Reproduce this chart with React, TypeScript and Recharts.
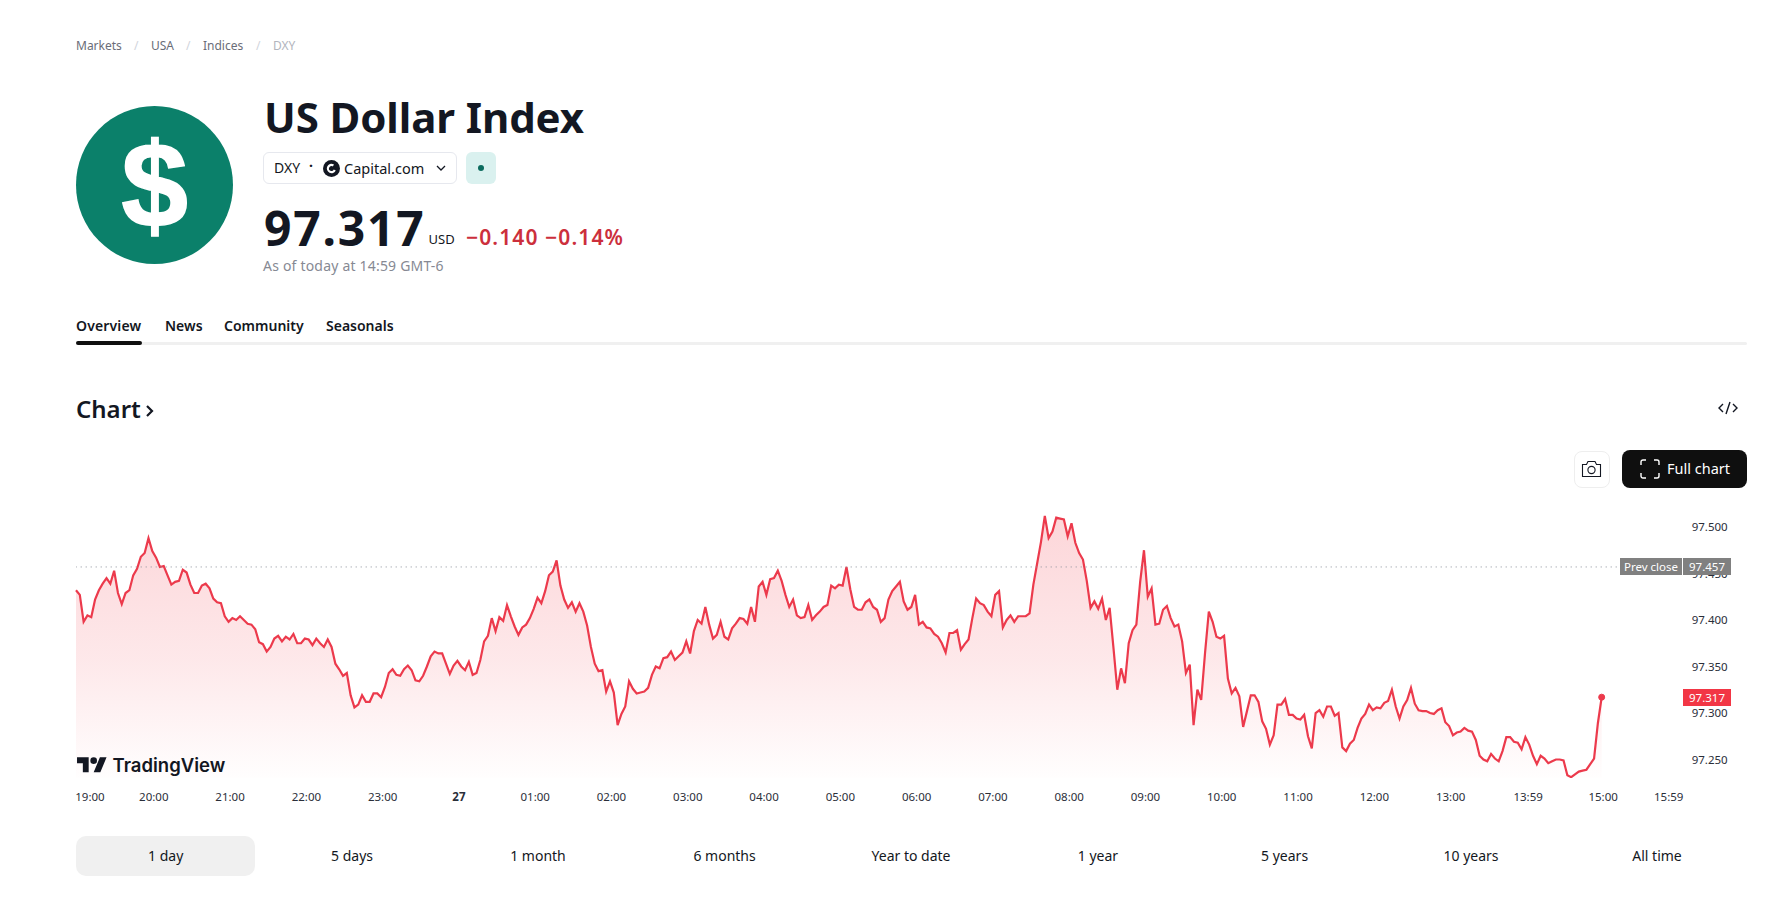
import React from "react";
import { ComposedChart, Area, XAxis, YAxis, ReferenceLine, ReferenceDot } from "recharts";

// 3 minute closes, one list per session hour
const hour19 = [97.432,97.427,97.398,97.405,97.403,97.422,97.432,97.439,97.445,97.439,97.453,97.429,97.417,97.429,97.432,97.448,97.455,97.468,97.472,97.488];
const hour20 = [97.474,97.467,97.457,97.458,97.448,97.438,97.441,97.442,97.454,97.451,97.438,97.429,97.429,97.437,97.439,97.434,97.423,97.419,97.418,97.404];
const hour21 = [97.398,97.402,97.400,97.404,97.400,97.396,97.395,97.390,97.376,97.374,97.366,97.371,97.380,97.383,97.377,97.382,97.379,97.385,97.375,97.375];
const hour22 = [97.380,97.379,97.373,97.380,97.375,97.371,97.379,97.371,97.353,97.347,97.340,97.343,97.319,97.306,97.309,97.319,97.312,97.312,97.321,97.321];
const hour23 = [97.317,97.328,97.343,97.347,97.341,97.340,97.347,97.351,97.346,97.335,97.334,97.340,97.350,97.361,97.366,97.364,97.364,97.353,97.342,97.351];
const hour00 = [97.356,97.350,97.346,97.355,97.341,97.343,97.357,97.377,97.383,97.402,97.388,97.403,97.399,97.416,97.404,97.393,97.384,97.392,97.395,97.402];
const hour01 = [97.412,97.424,97.418,97.431,97.448,97.452,97.464,97.437,97.422,97.413,97.419,97.409,97.418,97.409,97.394,97.371,97.353,97.345,97.346,97.323];
const hour02 = [97.334,97.322,97.287,97.299,97.307,97.334,97.326,97.321,97.322,97.323,97.327,97.341,97.350,97.348,97.359,97.360,97.366,97.357,97.361,97.365];
const hour03 = [97.377,97.364,97.388,97.400,97.396,97.414,97.395,97.380,97.384,97.398,97.382,97.379,97.391,97.396,97.402,97.401,97.396,97.414,97.398,97.436];
const hour04 = [97.441,97.427,97.444,97.445,97.453,97.442,97.427,97.414,97.422,97.405,97.402,97.403,97.416,97.400,97.405,97.409,97.414,97.416,97.437,97.434];
const hour05 = [97.438,97.437,97.457,97.433,97.414,97.411,97.411,97.419,97.422,97.414,97.411,97.398,97.402,97.422,97.431,97.436,97.441,97.420,97.411,97.414];
const hour06 = [97.427,97.395,97.398,97.392,97.391,97.385,97.382,97.375,97.365,97.386,97.386,97.389,97.368,97.374,97.379,97.402,97.423,97.418,97.416,97.409];
const hour07 = [97.404,97.427,97.431,97.392,97.400,97.405,97.398,97.404,97.404,97.404,97.407,97.438,97.461,97.484,97.512,97.488,97.495,97.510,97.509,97.508];
const hour08 = [97.490,97.504,97.483,97.472,97.465,97.442,97.413,97.420,97.412,97.423,97.400,97.413,97.370,97.325,97.348,97.332,97.375,97.389,97.395,97.441];
const hour09 = [97.475,97.425,97.434,97.395,97.396,97.411,97.415,97.402,97.393,97.395,97.377,97.343,97.352,97.287,97.325,97.314,97.364,97.409,97.398,97.382];
const hour10 = [97.380,97.383,97.337,97.321,97.327,97.318,97.285,97.302,97.319,97.319,97.312,97.291,97.283,97.266,97.276,97.309,97.309,97.315,97.298,97.298];
const hour11 = [97.294,97.293,97.298,97.275,97.262,97.300,97.303,97.296,97.307,97.307,97.297,97.300,97.263,97.259,97.267,97.271,97.284,97.294,97.299,97.309];
const hour12 = [97.303,97.306,97.305,97.311,97.313,97.325,97.307,97.294,97.307,97.314,97.327,97.310,97.303,97.302,97.302,97.300,97.299,97.303,97.305,97.290];
const hour13 = [97.286,97.276,97.279,97.280,97.284,97.281,97.280,97.271,97.254,97.250,97.248,97.256,97.251,97.248,97.259,97.274,97.274,97.269,97.268,97.261];
const hour14 = [97.274,97.266,97.254,97.245,97.254,97.251,97.246,97.248,97.250,97.250,97.249,97.233,97.231,97.234,97.237,97.238,97.239,97.245,97.251,97.289,97.317];

const prices = [hour19,hour20,hour21,hour22,hour23,hour00,hour01,hour02,hour03,hour04,hour05,hour06,hour07,hour08,hour09,hour10,hour11,hour12,hour13,hour14].flat();
const prevClose = 97.457;
const lastPrice = 97.317;
const stepMinutes = 3;
const chartData = prices.map((price, i) => ({ minute: i * stepMinutes, price }));

const xTicks = [0,60,120,180,240,300,360,420,480,540,600,660,720,780,840,900,960,1020,1080,1139,1200,1259];
const xLabels = ["19:00","20:00","21:00","22:00","23:00","27","01:00","02:00","03:00","04:00","05:00","06:00","07:00","08:00","09:00","10:00","11:00","12:00","13:00","13:59","15:00","15:59"];
const yTicks = [97.25,97.3,97.35,97.4,97.45,97.5];
const yDomain = [97.2301, 97.529];
const ranges = ["1 day","5 days","1 month","6 months","Year to date","1 year","5 years","10 years","All time"];
const rangeCenters = [165.7,352,538,724.6,911,1098,1284.6,1471,1657];

const FONT = '"Noto Sans", sans-serif';
const RED = "#F23645";
const PLOT_TOP = 10;
const PLOT_HEIGHT = 278;

const Txt = ({ x, y, size = 14, weight = 400, color = "#131722", center = false, spacing = 0, children, font = FONT, outline }: any) => (
  <div style={{ position: "absolute", left: x, top: y, transform: center ? "translate(-50%,-50%)" : "translateY(-50%)", fontFamily: font, fontSize: size, fontWeight: weight, color, letterSpacing: spacing, whiteSpace: "nowrap", lineHeight: 1, WebkitTextStroke: outline }}>
    {children}
  </div>
);

const TimeTick = (props: any) => {
  const { x, y, payload } = props;
  const i = xTicks.indexOf(payload.value);
  const shift = i === 0 ? 14 : i === xTicks.length - 1 ? -8 : i === 19 ? 4 : 1.5;
  return (
    <text x={x + shift} y={y + 12} textAnchor="middle" dominantBaseline="middle" fontFamily={FONT} fontSize={11.5} fontWeight={xLabels[i] === "27" ? 700 : 400} fill="#2a2e39">
      {xLabels[i]}
    </text>
  );
};

// price tags sit over the axis labels, so they are drawn above the svg
const priceTop = (v: number) => PLOT_TOP + ((yDomain[1] - v) / (yDomain[1] - yDomain[0])) * PLOT_HEIGHT;

const PriceBox = ({ left, width, price, fill, children }: any) => (
  <div style={{ position: "absolute", left, top: priceTop(price) - 8.5, width, height: 17, background: fill, color: "#fff", fontFamily: FONT, fontSize: 11.5, lineHeight: "17px", textAlign: "center", whiteSpace: "nowrap" }}>
    {children}
  </div>
);

const PriceChart = () => (
  <div style={{ position: "absolute", left: 0, top: 490 }}>
    <ComposedChart width={1792} height={340} data={chartData} margin={{ top: PLOT_TOP, right: 0, bottom: 0, left: 76 }}>
      <defs>
        <linearGradient id="dxyFill" x1="0" y1="0" x2="0" y2="1">
          <stop offset="0%" stopColor={RED} stopOpacity={0.34} />
          <stop offset="55%" stopColor={RED} stopOpacity={0.19} />
          <stop offset="80%" stopColor={RED} stopOpacity={0.09} />
          <stop offset="100%" stopColor={RED} stopOpacity={0.01} />
        </linearGradient>
      </defs>
      <XAxis dataKey="minute" type="number" domain={[0, 1259]} ticks={xTicks} interval={0} height={52} axisLine={false} tickLine={false} tick={<TimeTick />} />
      <YAxis orientation="right" type="number" domain={yDomain} ticks={yTicks} interval={0} width={115.3} axisLine={false} tickLine={false} tickMargin={9} allowDataOverflow tickFormatter={(v: number) => v.toFixed(3)} tick={{ fontFamily: FONT, fontSize: 11.5, fill: "#2a2e39", textAnchor: "start" }} />
      <Area dataKey="price" type="linear" stroke="#EC3A4C" strokeWidth={2.2} fill="url(#dxyFill)" dot={false} activeDot={false} isAnimationActive={false} />
      <ReferenceLine y={prevClose} stroke="#8a8e99" strokeWidth={1} strokeDasharray="1 4" />
      <ReferenceDot x={chartData[chartData.length - 1].minute} y={lastPrice} r={3} fill="#EC3A4C" stroke="#EC3A4C" />
    </ComposedChart>
    <PriceBox left={1620} width={62} price={prevClose} fill="#808080">Prev close</PriceBox>
    <PriceBox left={1683} width={48} price={prevClose} fill="#808080">{prevClose.toFixed(3)}</PriceBox>
    <PriceBox left={1683} width={48} price={lastPrice} fill={RED}>{lastPrice.toFixed(3)}</PriceBox>
    <svg style={{ position: "absolute", left: 77, top: 263.5 }} width={30} height={23.3} viewBox="0 0 36 28">
      <path d="M14 22H7V11H0V4h14v18zM28 22h-8l7.5-18h8L28 22z" fill="#131722" />
      <circle cx="20" cy="8" r="4" fill="#131722" />
    </svg>
    <Txt x={112.5} y={274.5} size={18.5} weight={600} font="Inter, sans-serif">TradingView</Txt>
  </div>
);

const App = () => (
  <div style={{ position: "absolute", left: 0, top: 0, width: 1792, height: 897, background: "#fff", overflow: "hidden" }}>
    <Txt x={76} y={45.5} size={12} color="#6a6d78">Markets</Txt>
    <Txt x={134} y={45.5} size={12} color="#d1d4dc">/</Txt>
    <Txt x={151} y={45.5} size={12} color="#6a6d78">USA</Txt>
    <Txt x={186} y={45.5} size={12} color="#d1d4dc">/</Txt>
    <Txt x={203} y={45.5} size={12} color="#6a6d78">Indices</Txt>
    <Txt x={256} y={45.5} size={12} color="#d1d4dc">/</Txt>
    <Txt x={273} y={45.5} size={12} color="#b2b5be">DXY</Txt>

    <div style={{ position: "absolute", left: 76, top: 106, width: 157, height: 158, borderRadius: "50%", background: "#0b806a" }} />
    <Txt x={154.5} y={185} size={120} weight={700} color="#fff" center font='"Liberation Sans", sans-serif' outline="1.5px #fff">$</Txt>

    <Txt x={264} y={117} size={42} weight={700} spacing={-0.1}>US Dollar Index</Txt>
    <div style={{ position: "absolute", left: 263, top: 152, width: 194, height: 32, boxSizing: "border-box", border: "1px solid #e6e8ee", borderRadius: 6 }} />
    <Txt x={274} y={168} size={14}>DXY</Txt>
    <Txt x={309} y={166} size={14} weight={700}>·</Txt>
    <svg style={{ position: "absolute", left: 323, top: 160 }} width={17} height={17} viewBox="0 0 17 17">
      <circle cx="8.5" cy="8.5" r="8.5" fill="#131722" />
      <circle cx="8.5" cy="8.5" r="3.6" fill="none" stroke="#fff" strokeWidth="2.2" strokeDasharray="17 6" transform="rotate(25 8.5 8.5)" />
    </svg>
    <Txt x={344} y={167.5} size={14.5}>Capital.com</Txt>
    <svg style={{ position: "absolute", left: 436, top: 165 }} width={10} height={7} viewBox="0 0 10 7">
      <path d="M1 1l4 4 4-4" fill="none" stroke="#131722" strokeWidth="1.3" />
    </svg>
    <div style={{ position: "absolute", left: 465.5, top: 152, width: 30, height: 32, borderRadius: 6, background: "#daf1ef" }} />
    <div style={{ position: "absolute", left: 477.5, top: 165, width: 6, height: 6, borderRadius: "50%", background: "#0b6b5e" }} />

    <Txt x={264} y={228} size={48} weight={700} spacing={1.8}>97.317</Txt>
    <Txt x={428.5} y={239} size={13}>USD</Txt>
    <Txt x={466} y={236.5} size={21} weight={600} color="#cc2f3c" spacing={1.1}>−0.140 −0.14%</Txt>
    <Txt x={263} y={266} size={14} color="#868993" spacing={0.2}>As of today at 14:59 GMT-6</Txt>

    <Txt x={76} y={326} size={14} weight={600} spacing={0.15}>Overview</Txt>
    <Txt x={165} y={326} size={14} weight={600}>News</Txt>
    <Txt x={224} y={326} size={14} weight={600}>Community</Txt>
    <Txt x={326} y={326} size={14} weight={600}>Seasonals</Txt>
    <div style={{ position: "absolute", left: 76, top: 342, width: 1671, height: 3, background: "#f0f0f0", borderRadius: 2 }} />
    <div style={{ position: "absolute", left: 76, top: 341, width: 66, height: 4, background: "#0f0f0f", borderRadius: 2 }} />

    <Txt x={76} y={409} size={24} weight={600}>Chart</Txt>
    <svg style={{ position: "absolute", left: 145, top: 404 }} width={10} height={14} viewBox="0 0 10 14">
      <path d="M2 2l5 5-5 5" fill="none" stroke="#131722" strokeWidth="2.2" />
    </svg>
    <svg style={{ position: "absolute", left: 1718, top: 400 }} width={20} height={16} viewBox="0 0 20 16">
      <path d="M5 4L1 8l4 4M15 4l4 4-4 4M12 2L8 14" fill="none" stroke="#131722" strokeWidth="1.4" />
    </svg>

    <div style={{ position: "absolute", left: 1574, top: 450.5, width: 36, height: 37, boxSizing: "border-box", border: "1px solid #eeeeee", borderRadius: 8 }} />
    <svg style={{ position: "absolute", left: 1581, top: 460 }} width={21} height={18} viewBox="0 0 21 18">
      <path d="M1.5 4.5h4l1.5-3h7l1.5 3h4v12h-18z" fill="none" stroke="#131722" strokeWidth="1.1" />
      <circle cx="10.5" cy="10" r="3.6" fill="none" stroke="#131722" strokeWidth="1.1" />
    </svg>
    <div style={{ position: "absolute", left: 1622, top: 450, width: 125, height: 38, background: "#0f0f0f", borderRadius: 8 }} />
    <svg style={{ position: "absolute", left: 1640, top: 459 }} width={20} height={20} viewBox="0 0 20 20">
      <path d="M1 6V3a2 2 0 0 1 2-2h3M14 1h3a2 2 0 0 1 2 2v3M19 14v3a2 2 0 0 1-2 2h-3M6 19H3a2 2 0 0 1-2-2v-3" fill="none" stroke="#fff" strokeWidth="1.4" />
    </svg>
    <Txt x={1667} y={468} size={14.5} color="#fff">Full chart</Txt>

    <PriceChart />

    <div style={{ position: "absolute", left: 75.5, top: 836, width: 179, height: 40, background: "#f0f0f0", borderRadius: 10 }} />
    {ranges.map((label, i) => (
      <Txt key={label} x={rangeCenters[i]} y={856} size={14} center>{label}</Txt>
    ))}
  </div>
);

export default App;
